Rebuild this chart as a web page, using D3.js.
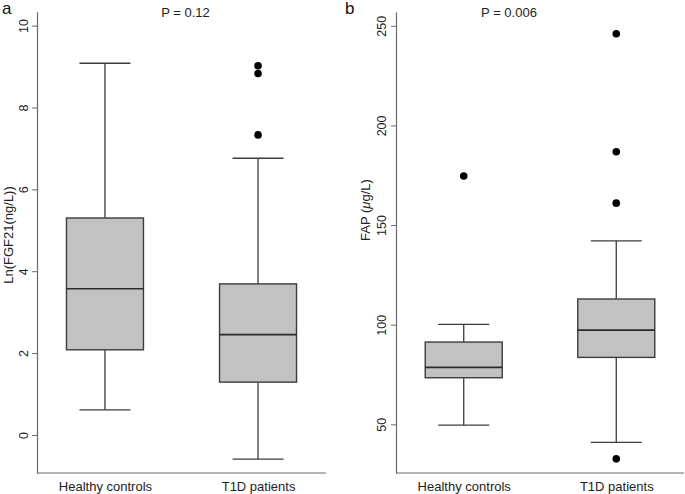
<!DOCTYPE html>
<html><head><meta charset="utf-8">
<script src="https://cdn.jsdelivr.net/npm/d3@7"></script>
<style>
body{margin:0;background:#fff;}
svg{display:block;font-family:"Liberation Sans",Arial,Helvetica,sans-serif;}
</style></head>
<body><svg id="c" width="685" height="494"></svg>
<script>
const categories = ["Healthy controls", "T1D patients"];

// Panel a: Ln(FGF21 (ng/L))
const fgfLow  = [0.61, -0.59];
const fgfQ1   = [2.08, 1.29];
const fgfMed  = [3.57, 2.45];
const fgfQ3   = [5.30, 3.69];
const fgfHigh = [9.08, 6.76];
const fgfOut  = [[], [9.02, 8.83, 7.33]];
const fgfTicks = [0, 2, 4, 6, 8, 10];

// Panel b: FAP (µg/L)
const fapLow  = [49.6, 41.0];
const fapQ1   = [73.4, 83.6];
const fapMed  = [78.6, 97.3];
const fapQ3   = [91.3, 112.9];
const fapHigh = [100.2, 142.1];
const fapOut  = [[174.6], [246, 186.8, 161.0, 32.7]];
const fapTicks = [50, 100, 150, 200, 250];

const pLabels = ["P = 0.12", "P = 0.006"];
const panelLetters = ["a", "b"];
// each title as parts: [text, italic?]
const yTitles = [[["Ln(FGF21(ng/L))", false]], [["FAP (", false], ["\u03BC", true], ["g/L)", false]]];

const svg = d3.select("#c");
const axisCol = "#6a6a6a", textCol = "#222", boxStroke = "#3c3c3c", boxFill = "#c2c2c2";

function panel(cfg){
  const g = svg.append("g");
  const x = d3.scalePoint().domain(categories).range([cfg.x0, cfg.x1]).padding(0.444);
  const y = d3.scaleLinear().domain(cfg.domain).range([473, cfg.yTop]);

  // y axis
  const ya = g.append("g").attr("transform", `translate(${cfg.x0},0)`)
    .call(d3.axisLeft(y).tickValues(cfg.ticks).tickSize(5).tickSizeOuter(0));
  ya.select(".domain").attr("stroke", axisCol).attr("stroke-width", 1.2);
  ya.selectAll(".tick line").attr("stroke", axisCol).attr("stroke-width", 1);
  ya.selectAll(".tick text").attr("transform", "rotate(-90)").attr("x", 0).attr("y", cfg.tickOff)
    .attr("dy", 0).attr("text-anchor", "middle").attr("fill", textCol)
    .style("font-size", "12.5px").style("font-family", "Liberation Sans, Arial, sans-serif");

  // x axis
  const xa = g.append("g").attr("transform", `translate(0,473)`)
    .call(d3.axisBottom(x).tickSize(0).tickSizeOuter(0));
  xa.select(".domain").attr("d", `M${cfg.x0},0H${cfg.x1}`).attr("stroke", axisCol).attr("stroke-width", 1.2);
  xa.selectAll(".tick text").attr("y", 18).attr("dy", 0).attr("fill", textCol)
    .style("font-size", "13px").style("font-family", "Liberation Sans, Arial, sans-serif");

  const bw = 77, cw = 51;
  categories.forEach((c, i) => {
    const cx = x(c);
    g.append("line").attr("x1", cx).attr("x2", cx).attr("y1", y(cfg.high[i])).attr("y2", y(cfg.q3[i]))
      .attr("stroke", boxStroke).attr("stroke-width", 1.3);
    g.append("line").attr("x1", cx).attr("x2", cx).attr("y1", y(cfg.q1[i])).attr("y2", y(cfg.low[i]))
      .attr("stroke", boxStroke).attr("stroke-width", 1.3);
    [cfg.high[i], cfg.low[i]].forEach(v => {
      g.append("line").attr("x1", cx - cw/2).attr("x2", cx + cw/2).attr("y1", y(v)).attr("y2", y(v))
        .attr("stroke", boxStroke).attr("stroke-width", 1.3);
    });
    g.append("rect").attr("x", cx - bw/2).attr("width", bw)
      .attr("y", y(cfg.q3[i])).attr("height", y(cfg.q1[i]) - y(cfg.q3[i]))
      .attr("fill", boxFill).attr("stroke", boxStroke).attr("stroke-width", 1.4);
    g.append("line").attr("x1", cx - bw/2).attr("x2", cx + bw/2).attr("y1", y(cfg.med[i])).attr("y2", y(cfg.med[i]))
      .attr("stroke", "#2a2a2a").attr("stroke-width", 1.6);
    cfg.out[i].forEach(v => {
      g.append("circle").attr("cx", cx).attr("cy", y(v)).attr("r", 3.8).attr("fill", "#000");
    });
  });

  g.append("text").attr("x", cfg.pX).attr("y", 17).attr("text-anchor", "middle")
    .attr("fill", textCol).style("font-size", "13px").text(cfg.p);
  g.append("text").attr("x", cfg.letterX).attr("y", 14).attr("fill", "#111")
    .style("font-size", "17px").text(cfg.letter);
  const t = g.append("text").attr("transform", `translate(${cfg.titleX},${cfg.titleY}) rotate(-90)`)
    .attr("text-anchor", "middle").attr("fill", textCol).style("font-size", "13px");
  cfg.title.forEach(([s, it]) => {
    t.append("tspan").style("font-style", it ? "italic" : "normal").text(s);
  });
}

panel({x0: 37, x1: 326, domain: [-0.93, 10.34], yTop: 11.7, ticks: fgfTicks, tickOff: -9.5,
  low: fgfLow, q1: fgfQ1, med: fgfMed, q3: fgfQ3, high: fgfHigh, out: fgfOut,
  p: pLabels[0], pX: 185.5, letter: panelLetters[0], letterX: 2, title: yTitles[0], titleX: 13, titleY: 235});
panel({x0: 396, x1: 684, domain: [25.6, 256.9], yTop: 12, ticks: fapTicks, tickOff: -10.5,
  low: fapLow, q1: fapQ1, med: fapMed, q3: fapQ3, high: fapHigh, out: fapOut,
  p: pLabels[1], pX: 509, letter: panelLetters[1], letterX: 345, title: yTitles[1], titleX: 370, titleY: 210});
</script></body></html>
